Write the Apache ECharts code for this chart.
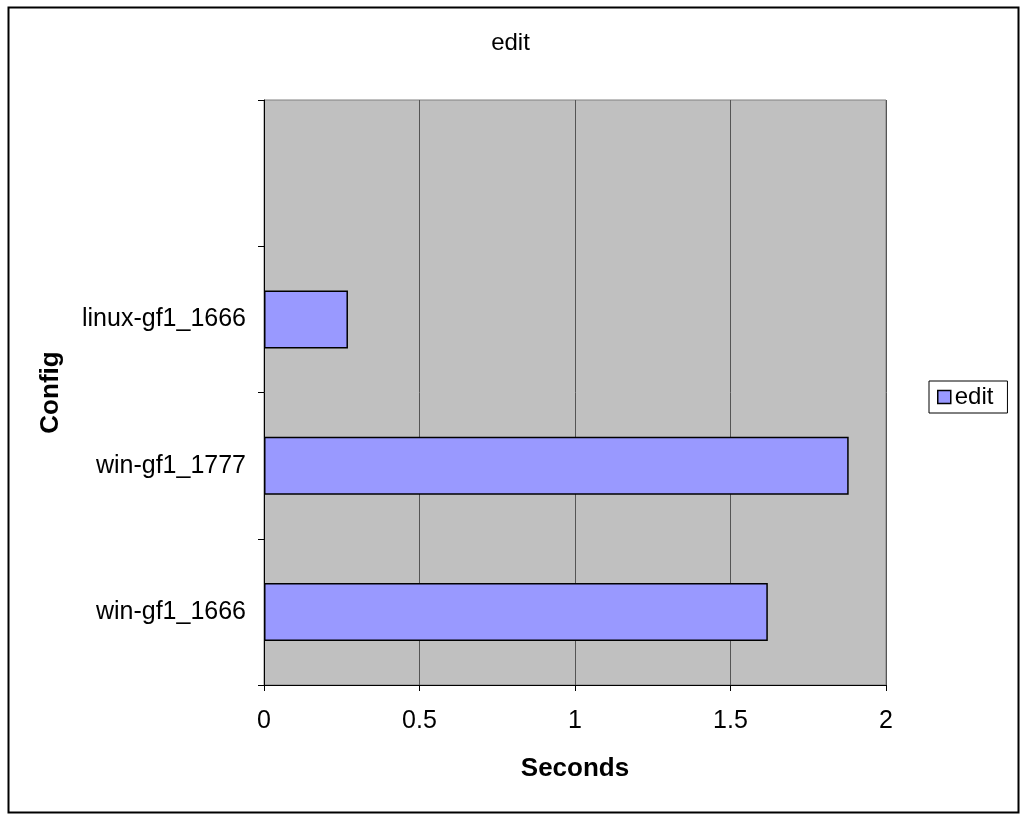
<!DOCTYPE html>
<html>
<head>
<meta charset="utf-8">
<script src="https://cdn.jsdelivr.net/npm/echarts@6/dist/echarts.min.js"></script>
<style>
html,body{margin:0;padding:0;background:#fff;}
#c{width:1021px;height:816px;}
</style>
</head>
<body>
<div id="c"></div>
<script>
const categories = ['win-gf1_1666', 'win-gf1_1777', 'linux-gf1_1666', ''];
const editValues = [1.62, 1.88, 0.27, null];
const xTicks = [0, 0.5, 1, 1.5, 2];
const seriesName = 'edit';
const chartTitle = 'edit';
const xName = 'Seconds';
const yName = 'Config';

const font = "'Liberation Sans', Arial, sans-serif";
const chart = echarts.init(document.getElementById('c'));
chart.setOption({
  animation: false,
  backgroundColor: '#fff',
  graphic: [{
    type: 'rect', left: 6, top: 5, z: -1,
    shape: { width: 1010, height: 805 },
    style: { fill: 'none', stroke: '#000', lineWidth: 2 }
  }],
  title: {
    text: chartTitle, left: 'center', top: 26,
    textStyle: { fontFamily: font, fontSize: 24, fontWeight: 'normal', color: '#000' }
  },
  legend: {
    data: [seriesName],
    left: 929, top: 381,
    orient: 'vertical',
    backgroundColor: '#fff',
    borderColor: '#000', borderWidth: 1,
    padding: [4, 14, 4, 8],
    itemWidth: 13, itemHeight: 13, itemGap: 4,
    icon: 'rect',
    itemStyle: { borderColor: '#000', borderWidth: 1.5 },
    textStyle: { fontFamily: font, fontSize: 24, color: '#000', padding: [0, 0, 0, -1] }
  },
  grid: {
    left: 264, right: 135, top: 100, bottom: 131,
    show: true, backgroundColor: '#C0C0C0', borderColor: '#808080', borderWidth: 1
  },
  xAxis: {
    type: 'value', min: xTicks[0], max: xTicks[xTicks.length - 1], interval: 0.5,
    name: xName, nameLocation: 'middle', nameGap: 71,
    nameTextStyle: { fontFamily: font, fontSize: 26, fontWeight: 'bold', color: '#000' },
    axisLine: { show: true, lineStyle: { color: '#000', width: 1 } },
    axisTick: { show: true, length: 6, lineStyle: { color: '#000' } },
    axisLabel: { fontFamily: font, fontSize: 25, color: '#000', margin: 24 },
    splitLine: { show: true, lineStyle: { color: '#555', width: 1 } }
  },
  yAxis: {
    type: 'category', data: categories, boundaryGap: true,
    name: yName, nameLocation: 'middle', nameGap: 200, nameRotate: 90,
    nameTextStyle: { fontFamily: font, fontSize: 26, fontWeight: 'bold', color: '#000' },
    axisLine: { show: true, lineStyle: { color: '#000', width: 1 } },
    axisTick: { show: true, length: 6, inside: false, alignWithLabel: false, lineStyle: { color: '#000' } },
    axisLabel: { fontFamily: font, fontSize: 25, color: '#000', margin: 18 },
    splitLine: { show: false }
  },
  series: [{
    name: seriesName, type: 'bar', data: editValues,
    barWidth: 58,
    itemStyle: { color: '#9999FF', borderColor: '#000', borderWidth: 1.5 }
  }]
});
</script>
</body>
</html>
